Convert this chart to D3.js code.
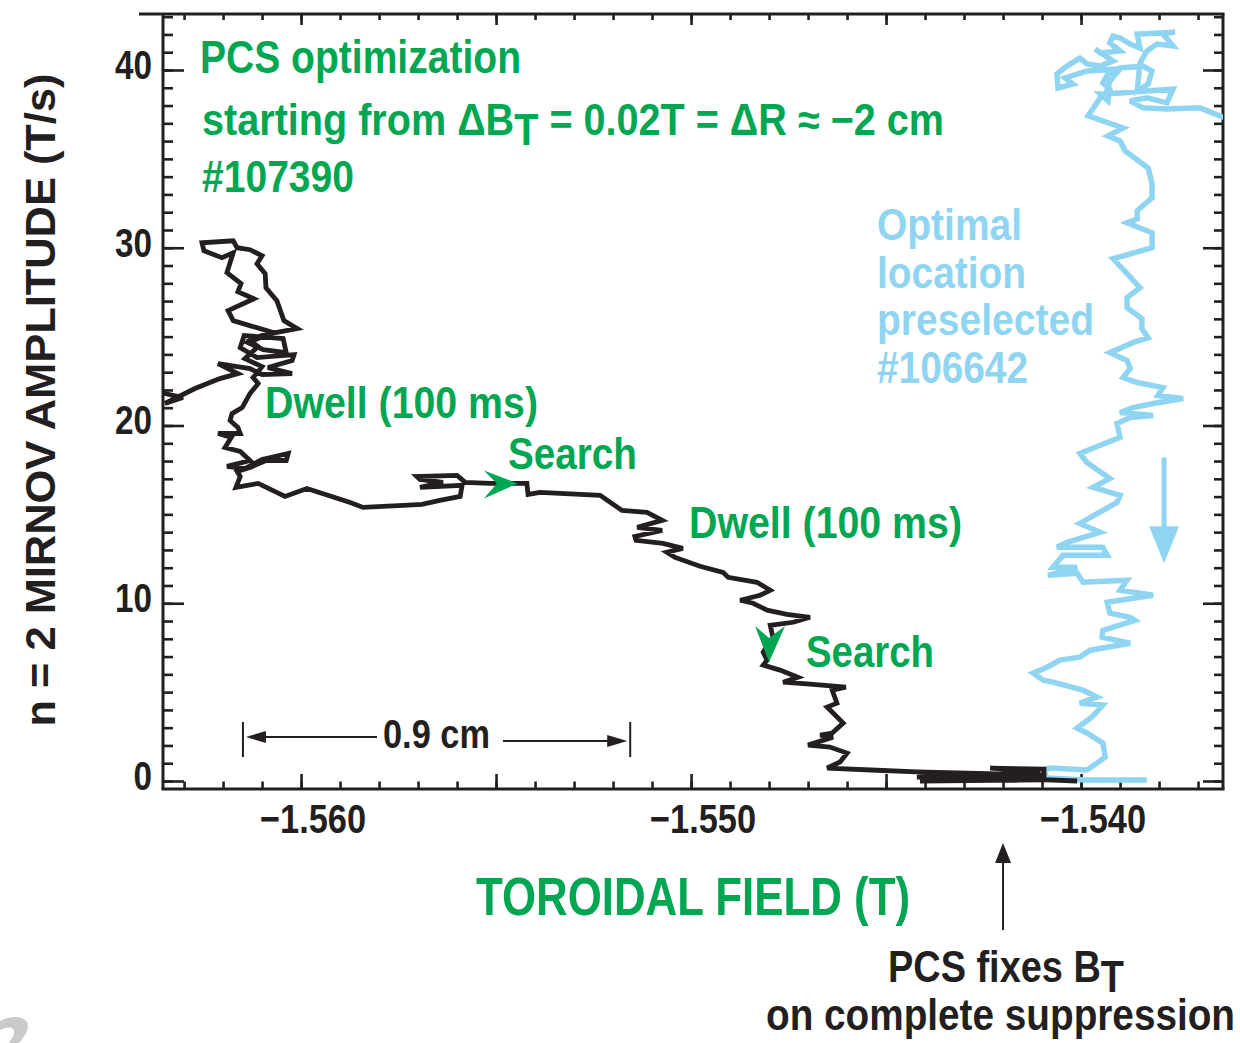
<!DOCTYPE html>
<html>
<head>
<meta charset="utf-8">
<script src="https://cdn.jsdelivr.net/npm/d3@7"></script>
<style>
  html, body { margin: 0; padding: 0; background: #fff; }
  svg { display: block; }
  text { font-family: 'Liberation Sans Narrow', 'Arial Narrow', 'Liberation Sans', Arial, sans-serif; font-weight: bold; }
</style>
</head>
<body>
<svg id="chart" width="1240" height="1043"></svg>
<script>
// Shot #107390: PCS search of toroidal field (T) vs n=2 Mirnov amplitude (T/s)
const fieldSearch = [
  -1.56387,-1.56349,-1.56303,-1.56349,-1.56272,-1.56208,-1.56162,-1.56213,-1.56131,-1.56100,
  -1.56023,-1.56085,-1.56023,-1.56018,-1.56113,-1.56156,-1.56146,-1.56046,-1.56038,-1.56097,
  -1.56136,-1.56079,-1.56010,-1.56044,-1.56062,-1.56090,-1.56092,-1.56113,-1.56100,-1.56131,
  -1.56164,-1.56174,-1.56254,-1.56249,-1.56203,-1.56174,-1.56190,-1.56154,-1.56162,-1.56121,
  -1.56187,-1.56174,-1.56079,-1.56131,-1.56110,-1.56144,-1.56100,-1.56123,-1.56110,-1.56131,
  -1.56151,-1.56177,-1.56182,-1.56162,-1.56156,-1.56213,-1.56179,-1.56195,-1.56156,-1.56131,
  -1.56190,-1.56144,-1.56100,-1.56033,-1.56038,-1.56090,-1.56131,-1.56164,-1.56156,-1.56167,
  -1.56110,-1.56041,-1.55985,-1.55874,-1.55841,-1.55738,-1.55690,-1.55644,-1.55592,-1.55587,
  -1.55695,-1.55636,-1.55695,-1.55703,-1.55600,-1.55579,-1.55515,-1.55421,-1.55418,-1.55387,
  -1.55336,-1.55233,-1.55177,-1.55113,-1.55074,-1.55138,-1.55074,-1.55144,-1.55141,-1.55072,
  -1.55021,-1.55062,-1.55041,-1.54977,-1.54918,-1.54905,-1.54831,-1.54797,-1.54823,-1.54874,
  -1.54841,-1.54805,-1.54754,-1.54695,-1.54738,-1.54797,-1.54790,-1.54815,-1.54805,-1.54815,
  -1.54772,-1.54726,-1.54764,-1.54695,-1.54603,-1.54638,-1.54626,-1.54651,-1.54610,-1.54638,
  -1.54669,-1.54636,-1.54700,-1.54644,-1.54600,-1.54618,-1.54651,-1.54538,-1.54421,-1.54095,
  -1.54421,-1.54105,-1.54233,-1.54095,-1.54095,-1.54413,-1.54208,-1.54010
];
const ampSearch = [
  21.97,21.80,21.57,21.24,22.08,22.64,22.92,23.48,23.20,22.87,
  22.92,23.26,23.65,23.99,23.82,24.38,25.06,24.89,24.10,24.27,
  24.66,25.17,25.45,25.90,27.02,27.75,28.54,29.10,29.55,29.89,
  30.00,30.39,30.28,29.83,29.44,29.72,28.60,27.98,27.53,27.13,
  26.46,25.90,25.28,24.78,24.44,23.76,23.31,22.70,22.36,21.80,
  21.01,20.67,20.28,19.89,19.55,19.55,19.33,18.76,18.54,18.03,
  17.70,17.58,18.09,18.43,18.03,18.03,17.64,17.42,17.13,16.52,
  16.74,16.01,16.46,15.67,15.39,15.51,15.56,15.79,16.01,16.63,
  16.52,16.80,16.97,17.13,17.19,16.80,16.74,16.74,16.12,16.24,
  16.18,16.07,15.22,15.11,14.66,14.27,14.10,13.76,13.54,13.37,
  13.09,12.87,12.58,12.08,11.74,11.46,11.18,10.73,10.45,10.17,
  10.00,9.61,9.38,9.21,8.93,8.76,8.09,7.25,6.80,6.52,
  6.24,5.84,5.56,5.45,5.28,5.11,4.38,4.16,3.26,2.70,
  2.58,2.47,2.02,1.91,1.57,1.07,0.73,0.62,0.51,0.34,
  0.22,0.51,0.73,0.67,0.06,0.00,0.17,0.00
];

// Shot #106642: optimal location preselected
const fieldPreset = [
  -1.53618,-1.53695,-1.53780,-1.53841,-1.53874,-1.53831,-1.53780,-1.53764,-1.53831,-1.53900,
  -1.53951,-1.53931,-1.53926,-1.53944,-1.53931,-1.53900,-1.53841,-1.53818,-1.53828,-1.53856,
  -1.53849,-1.53831,-1.53805,-1.53764,-1.53790,-1.53759,-1.53856,-1.53849,-1.53874,-1.53900,
  -1.53918,-1.53926,-1.53900,-1.53951,-1.53964,-1.53918,-1.53951,-1.53985,-1.54003,-1.54036,
  -1.54062,-1.54059,-1.54021,-1.54041,-1.53985,-1.53900,-1.53926,-1.53938,-1.53951,-1.53982,
  -1.53892,-1.53931,-1.53900,-1.53887,-1.53828,-1.53818,-1.53818,-1.53856,-1.53856,-1.53882,
  -1.53818,-1.53818,-1.53918,-1.53882,-1.53849,-1.53882,-1.53882,-1.53844,-1.53844,-1.53828,
  -1.53867,-1.53926,-1.53882,-1.53874,-1.53892,-1.53856,-1.53790,-1.53803,-1.53738,-1.53815,
  -1.53867,-1.53900,-1.53815,-1.53874,-1.53908,-1.53900,-1.54003,-1.53985,-1.53926,-1.53969,
  -1.53900,-1.53908,-1.54003,-1.53951,-1.54036,-1.54062,-1.53944,-1.53933,-1.54046,-1.54072,
  -1.54010,-1.54085,-1.54010,-1.53995,-1.53882,-1.53900,-1.53815,-1.53900,-1.53933,-1.53926,
  -1.53874,-1.53862,-1.53944,-1.53946,-1.53874,-1.53977,-1.54003,-1.54054,-1.54087,-1.54123,
  -1.54097,-1.54072,-1.53995,-1.53959,-1.54003,-1.53944,-1.53972,-1.54010,-1.53985,-1.53944,
  -1.53938,-1.53959,-1.53985,-1.54079,-1.54097,-1.54087,-1.53985,-1.53831
];
const ampPreset = [
  37.19,37.87,37.81,37.87,38.26,38.43,38.15,38.93,38.82,38.71,
  38.65,38.26,38.93,39.27,39.78,40.11,40.22,39.94,39.21,38.82,
  40.39,41.07,41.46,41.35,42.02,42.13,42.02,41.24,41.46,41.80,
  41.91,41.52,41.07,40.96,41.18,40.51,40.22,40.34,40.67,40.22,
  39.78,38.99,39.21,39.55,39.94,40.06,39.38,38.54,38.43,37.42,
  36.74,36.29,36.01,35.45,34.49,33.60,32.81,32.08,31.63,31.40,
  30.84,30.00,29.38,28.54,27.75,27.19,26.63,26.01,25.45,24.94,
  24.66,24.10,23.65,23.20,22.70,22.42,22.13,21.69,21.52,21.24,
  21.01,20.73,20.56,20.45,20.11,19.33,18.43,17.92,17.02,16.52,
  16.07,15.67,14.49,13.99,13.43,13.15,13.15,12.70,12.70,12.02,
  12.02,11.57,11.69,11.18,11.29,10.73,10.45,10.17,10.06,9.44,
  9.21,9.04,8.48,8.09,7.75,7.36,6.97,6.80,6.40,6.07,
  5.67,5.56,5.11,4.72,4.38,4.27,3.60,2.98,2.70,2.13,
  1.35,1.01,0.62,0.73,0.62,0.17,0.06,0.06
];

// Axis ticks and labels
const xTickValues = [-1.560, -1.550, -1.540];
const xTickLabels = ["\u22121.560", "\u22121.550", "\u22121.540"];
const yTickValues = [0, 10, 20, 30, 40];
const yTickLabels = ["0", "10", "20", "30", "40"];

// Annotation anchors (field T, amplitude T/s)
const searchArrowRight = [-1.55444, 16.74];
const searchArrowDown = [-1.54800, 6.69];
const spanEnds = [-1.56149, -1.55156];     // "0.9 cm" bracket
const presetArrow = [-1.53787, 18.2, 12.25];
const fixArrowField = -1.54200;

const green = "#00a651", sky = "#8fd5f1", ink = "#231f20";
const plot = { left: 163, right: 1223, top: 14, bottom: 789 };

const svg = d3.select("#chart");
const x = d3.scaleLinear().domain([-1.56354, -1.53636]).range([plot.left, plot.right]);
const y = d3.scaleLinear().domain([-0.45, 43.15]).range([plot.bottom, plot.top]);

// clip for the traces
svg.append("defs").append("clipPath").attr("id", "plotClip")
  .append("rect").attr("x", plot.left).attr("y", plot.top)
  .attr("width", plot.right - plot.left).attr("height", plot.bottom - plot.top);

// tick marks (all pointing inward)
const xMinor = d3.range(-1563, -1536).map(k => k / 1000);
const xMajor = [-1.560, -1.555, -1.550, -1.545, -1.540];
const yMinor = d3.range(0, 44);
const yMajor = yTickValues;

function tickGroup(gen, tx, ty, size, values) {
  svg.append("g").attr("transform", `translate(${tx},${ty})`)
    .call(gen.tickValues(values).tickSize(size).tickSizeOuter(0).tickFormat(""))
    .call(g => g.select(".domain").remove())
    .call(g => g.selectAll(".tick line").attr("stroke", ink).attr("stroke-width", 2.6));
}
tickGroup(d3.axisBottom(x), 0, plot.bottom, -7.5, xMinor);
tickGroup(d3.axisBottom(x), 0, plot.bottom, -15, xMajor);
tickGroup(d3.axisTop(x), 0, plot.top, -6, xMinor);
tickGroup(d3.axisTop(x), 0, plot.top, -11, xMajor);
tickGroup(d3.axisLeft(y), plot.left, 0, -10, yMinor);
tickGroup(d3.axisLeft(y), plot.left, 0, -21, yMajor);
tickGroup(d3.axisRight(y), plot.right, 0, -9, yMinor);
tickGroup(d3.axisRight(y), plot.right, 0, -20, yMajor);

// frame
const frame = svg.append("g").attr("stroke", ink).attr("stroke-width", 3).attr("fill", "none");
frame.append("line").attr("x1", 139).attr("x2", plot.right + 1.5).attr("y1", plot.top).attr("y2", plot.top);
frame.append("line").attr("x1", plot.left - 1.5).attr("x2", plot.right + 1.5).attr("y1", plot.bottom).attr("y2", plot.bottom);
frame.append("line").attr("x1", plot.left).attr("x2", plot.left).attr("y1", plot.top).attr("y2", plot.bottom);
frame.append("line").attr("x1", plot.right).attr("x2", plot.right).attr("y1", plot.top).attr("y2", plot.bottom);

// traces
const line = d3.line().x(d => x(d[0])).y(d => y(d[1]));
const traces = svg.append("g").attr("clip-path", "url(#plotClip)");
traces.append("path")
  .datum(d3.zip(fieldPreset, ampPreset))
  .attr("d", line).attr("fill", "none").attr("stroke", sky)
  .attr("stroke-width", 5.5).attr("stroke-linejoin", "miter").attr("stroke-miterlimit", 3);
traces.append("path")
  .datum(d3.zip(fieldSearch, ampSearch))
  .attr("d", line).attr("fill", "none").attr("stroke", ink)
  .attr("stroke-width", 4.8).attr("stroke-linejoin", "miter").attr("stroke-miterlimit", 3);

// text helper: width fixed by textLength so the condensed look holds
function label(str, tx, ty, len, size, color, anchor) {
  const t = svg.append("text").attr("x", tx).attr("y", ty)
    .attr("font-size", size).attr("fill", color)
    .attr("text-anchor", anchor || "start").text(str);
  if (len) t.attr("textLength", len).attr("lengthAdjust", "spacingAndGlyphs");
  return t;
}
// text with one lowered subscript part: [before, sub, after]
function subLabel(parts, tx, ty, len, size, color, drop) {
  const t = svg.append("text").attr("x", tx).attr("y", ty)
    .attr("font-size", size).attr("fill", color)
    .attr("textLength", len).attr("lengthAdjust", "spacingAndGlyphs");
  t.append("tspan").text(parts[0]);
  t.append("tspan").attr("dy", drop).text(parts[1]);
  if (parts[2]) t.append("tspan").attr("dy", -drop).text(parts[2]);
  return t;
}

// tick labels
xTickValues.forEach((v, i) => label(xTickLabels[i], x(v) - 41, 833, 106, 41, ink));
yTickValues.forEach((v, i) => label(yTickLabels[i], 152, y(v) + 9, yTickLabels[i].length * 18.5, 41, ink, "end"));

// axis titles
svg.append("text")
  .attr("transform", "translate(55,400) rotate(-90)")
  .attr("text-anchor", "middle").attr("font-size", 42).attr("fill", ink)
  .attr("textLength", 653).attr("lengthAdjust", "spacingAndGlyphs")
  .text("n = 2 MIRNOV AMPLITUDE (T/s)");
label("TOROIDAL FIELD (T)", 476, 915, 434, 54, green);

// shot descriptions
label("PCS optimization", 200, 73, 321, 46, green);
subLabel(["starting from \u0394B", "T", " = 0.02T = \u0394R \u2248 \u22122 cm"], 202, 135, 742, 44, green, 10);
label("#107390", 202, 192, 152, 44, green);

label("Optimal", 877, 240, 145, 45, sky);
label("location", 877, 288, 149, 45, sky);
label("preselected", 877, 335, 217, 45, sky);
label("#106642", 877, 383, 151, 45, sky);

// search phases
label("Dwell (100 ms)", 265, 418, 273, 45, green);
label("Search", 508, 469, 129, 45, green);
label("Dwell (100 ms)", 689, 538, 273, 45, green);
label("Search", 806, 667, 128, 45, green);

// direction arrowheads on the search trace
const ax1 = x(searchArrowRight[0]), ay1 = y(searchArrowRight[1]);
svg.append("path").attr("fill", green)
  .attr("d", `M${ax1},${ay1} L${ax1 - 34},${ay1 - 13} L${ax1 - 21},${ay1} L${ax1 - 34},${ay1 + 15} Z`);
const ax2 = x(searchArrowDown[0]), ay2 = y(searchArrowDown[1]);
svg.append("path").attr("fill", green)
  .attr("d", `M${ax2},${ay2} L${ax2 - 14},${ay2 - 36} L${ax2},${ay2 - 24} L${ax2 + 16},${ay2 - 36} Z`);

// preselected trend arrow
const px = x(presetArrow[0]), py0 = y(presetArrow[1]), py1 = y(presetArrow[2]);
svg.append("line").attr("x1", px).attr("x2", px).attr("y1", py0).attr("y2", py1 - 30)
  .attr("stroke", sky).attr("stroke-width", 5);
svg.append("path").attr("fill", sky)
  .attr("d", `M${px},${py1} L${px - 15},${py1 - 37} L${px + 15},${py1 - 37} Z`);

// 0.9 cm span bracket
const sx0 = x(spanEnds[0]), sx1 = x(spanEnds[1]);
const br = svg.append("g").attr("stroke", ink).attr("stroke-width", 2);
br.append("line").attr("x1", sx0).attr("x2", sx0).attr("y1", 722).attr("y2", 757);
br.append("line").attr("x1", sx1).attr("x2", sx1).attr("y1", 722).attr("y2", 757);
br.append("line").attr("x1", sx0 + 18).attr("x2", 377).attr("y1", 737).attr("y2", 737);
br.append("line").attr("x1", 503).attr("x2", sx1 - 18).attr("y1", 741).attr("y2", 741);
svg.append("path").attr("fill", ink)
  .attr("d", `M${sx0 + 3},737 L${sx0 + 23},731 L${sx0 + 23},743 Z`);
svg.append("path").attr("fill", ink)
  .attr("d", `M${sx1 - 3},741 L${sx1 - 23},735 L${sx1 - 23},747 Z`);
label("0.9 cm", 383, 748, 107, 41, ink);

// "PCS fixes BT" note with arrow
const fx = x(fixArrowField);
svg.append("line").attr("x1", fx).attr("x2", fx).attr("y1", 930).attr("y2", 860)
  .attr("stroke", ink).attr("stroke-width", 2);
svg.append("path").attr("fill", ink)
  .attr("d", `M${fx},843 L${fx - 8},863 L${fx + 8},863 Z`);
subLabel(["PCS fixes B", "T"], 888, 982, 236, 45, ink, 10);
label("on complete suppression", 766, 1030, 469, 44, ink);

// faint corner mark
svg.append("path").attr("fill", "#cacacd")
  .attr("d", "M0,1021 C10,1016 22,1015 27,1022 C30,1028 25,1036 19,1043 L9,1043 C13,1037 16,1032 13,1029 C9,1026 4,1028 0,1030 Z");
</script>
</body>
</html>
